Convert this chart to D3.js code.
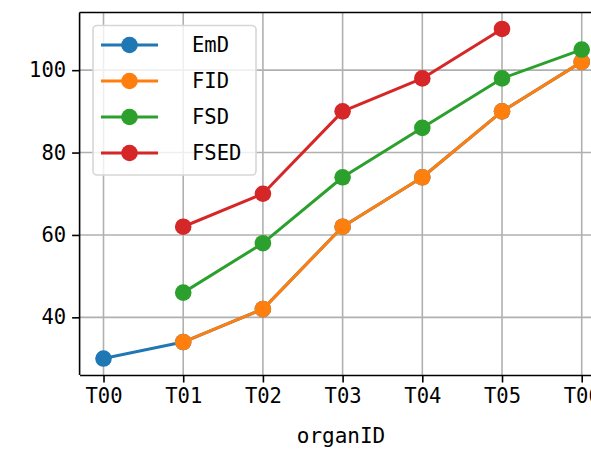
<!DOCTYPE html>
<html><head><meta charset="utf-8">
<script src="https://d3js.org/d3.v7.min.js"></script>
<style>
html,body{margin:0;padding:0;background:#fff;}
svg{display:block;}
text{font-family:"DejaVu Sans Mono",monospace;fill:#000;}
</style></head>
<body>
<script>
const categories = ["T00","T01","T02","T03","T04","T05","T06"];
const seriesNames = ["EmD","FID","FSD","FSED"];
const seriesColors = ["#1f77b4","#ff7f0e","#2ca02c","#d62728"];
const emd  = [30,34,42,62,74,90,102];
const fid  = [null,34,42,62,74,90,102];
const fsd  = [null,46,58,74,86,98,105];
const fsed = [null,62,70,90,98,110,null];
const yTicks = [40,60,80,100];
const xLabel = "organID";

const seriesValues = [emd, fid, fsd, fsed];

const W = 591, H = 449;
const svg = d3.select("body").append("svg").attr("width", W).attr("height", H);

const pLeft = 79.6, pTop = 12.5, pBottom = 375;
const step = 79.7;
const x = d3.scaleLinear().domain([-0.3, 6.3]).range([pLeft, pLeft + 6.6*step]);
const y = d3.scaleLinear().domain([26, 114]).range([pBottom, pTop]);

// grid
const g = svg.append("g");
g.selectAll(".vg").data(categories).enter().append("line")
  .attr("x1", (d,i)=>x(i)).attr("x2",(d,i)=>x(i))
  .attr("y1", pTop).attr("y2", pBottom)
  .attr("stroke","#b0b0b0").attr("stroke-width",1.6);
g.selectAll(".hg").data(yTicks).enter().append("line")
  .attr("x1", pLeft).attr("x2", W+20)
  .attr("y1", d=>y(d)).attr("y2", d=>y(d))
  .attr("stroke","#b0b0b0").attr("stroke-width",1.6);

// series
seriesValues.forEach((vals, si) => {
  const pts = vals.map((v,i)=>({i, v})).filter(p=>p.v!==null);
  const line = d3.line().x(p=>x(p.i)).y(p=>y(p.v));
  svg.append("path").datum(pts).attr("d", line)
    .attr("fill","none").attr("stroke", seriesColors[si]).attr("stroke-width",3)
    .attr("stroke-linejoin","round").attr("stroke-linecap","square");
  svg.selectAll(null).data(pts).enter().append("circle")
    .attr("cx", p=>x(p.i)).attr("cy", p=>y(p.v)).attr("r", 8.3)
    .attr("fill", seriesColors[si]);
});

// axes
const xAxis = d3.axisBottom(x).tickValues(d3.range(categories.length))
  .tickFormat(i=>categories[i]).tickSize(7.5).tickSizeOuter(0).tickPadding(6);
const ax = svg.append("g").attr("transform",`translate(0,${pBottom})`).call(xAxis);
ax.select(".domain").attr("stroke","#000").attr("stroke-width",1.6);
ax.selectAll(".tick line").attr("stroke","#000").attr("stroke-width",1.6);
ax.selectAll(".tick text").style("font-size","20.5px").attr("fill","#000");

const yAxis = d3.axisLeft(y).tickValues(yTicks).tickSize(7.5).tickSizeOuter(0).tickPadding(6);
const ay = svg.append("g").attr("transform",`translate(${pLeft},0)`).call(yAxis);
ay.select(".domain").remove();
ay.selectAll(".tick line").attr("stroke","#000").attr("stroke-width",1.6);
ay.selectAll(".tick text").style("font-size","20.5px").attr("fill","#000");

// spines
svg.append("line").attr("x1",pLeft).attr("x2",pLeft).attr("y1",pTop).attr("y2",pBottom)
  .attr("stroke","#000").attr("stroke-width",1.6);
svg.append("line").attr("x1",pLeft).attr("x2",W+20).attr("y1",pTop).attr("y2",pTop)
  .attr("stroke","#000").attr("stroke-width",1.6);

// x label
svg.append("text").attr("x", 341).attr("y", 443).attr("text-anchor","middle")
  .style("font-size","21px").text(xLabel);

// legend
const lg = svg.append("g");
lg.append("rect").attr("x",93).attr("y",25.5).attr("width",163).attr("height",149.5)
  .attr("rx",4).attr("fill","#fff").attr("fill-opacity",0.8)
  .attr("stroke","#d6d6d6").attr("stroke-width",1.6);
const rowY = [45, 81, 117, 153];
seriesNames.forEach((n, si) => {
  lg.append("line").attr("x1",101).attr("x2",158).attr("y1",rowY[si]).attr("y2",rowY[si])
    .attr("stroke",seriesColors[si]).attr("stroke-width",3);
  lg.append("circle").attr("cx",129.5).attr("cy",rowY[si]).attr("r",8.3).attr("fill",seriesColors[si]);
  lg.append("text").attr("x",192).attr("y",rowY[si]+7).style("font-size","20.5px").text(n);
});
</script>
</body></html>
